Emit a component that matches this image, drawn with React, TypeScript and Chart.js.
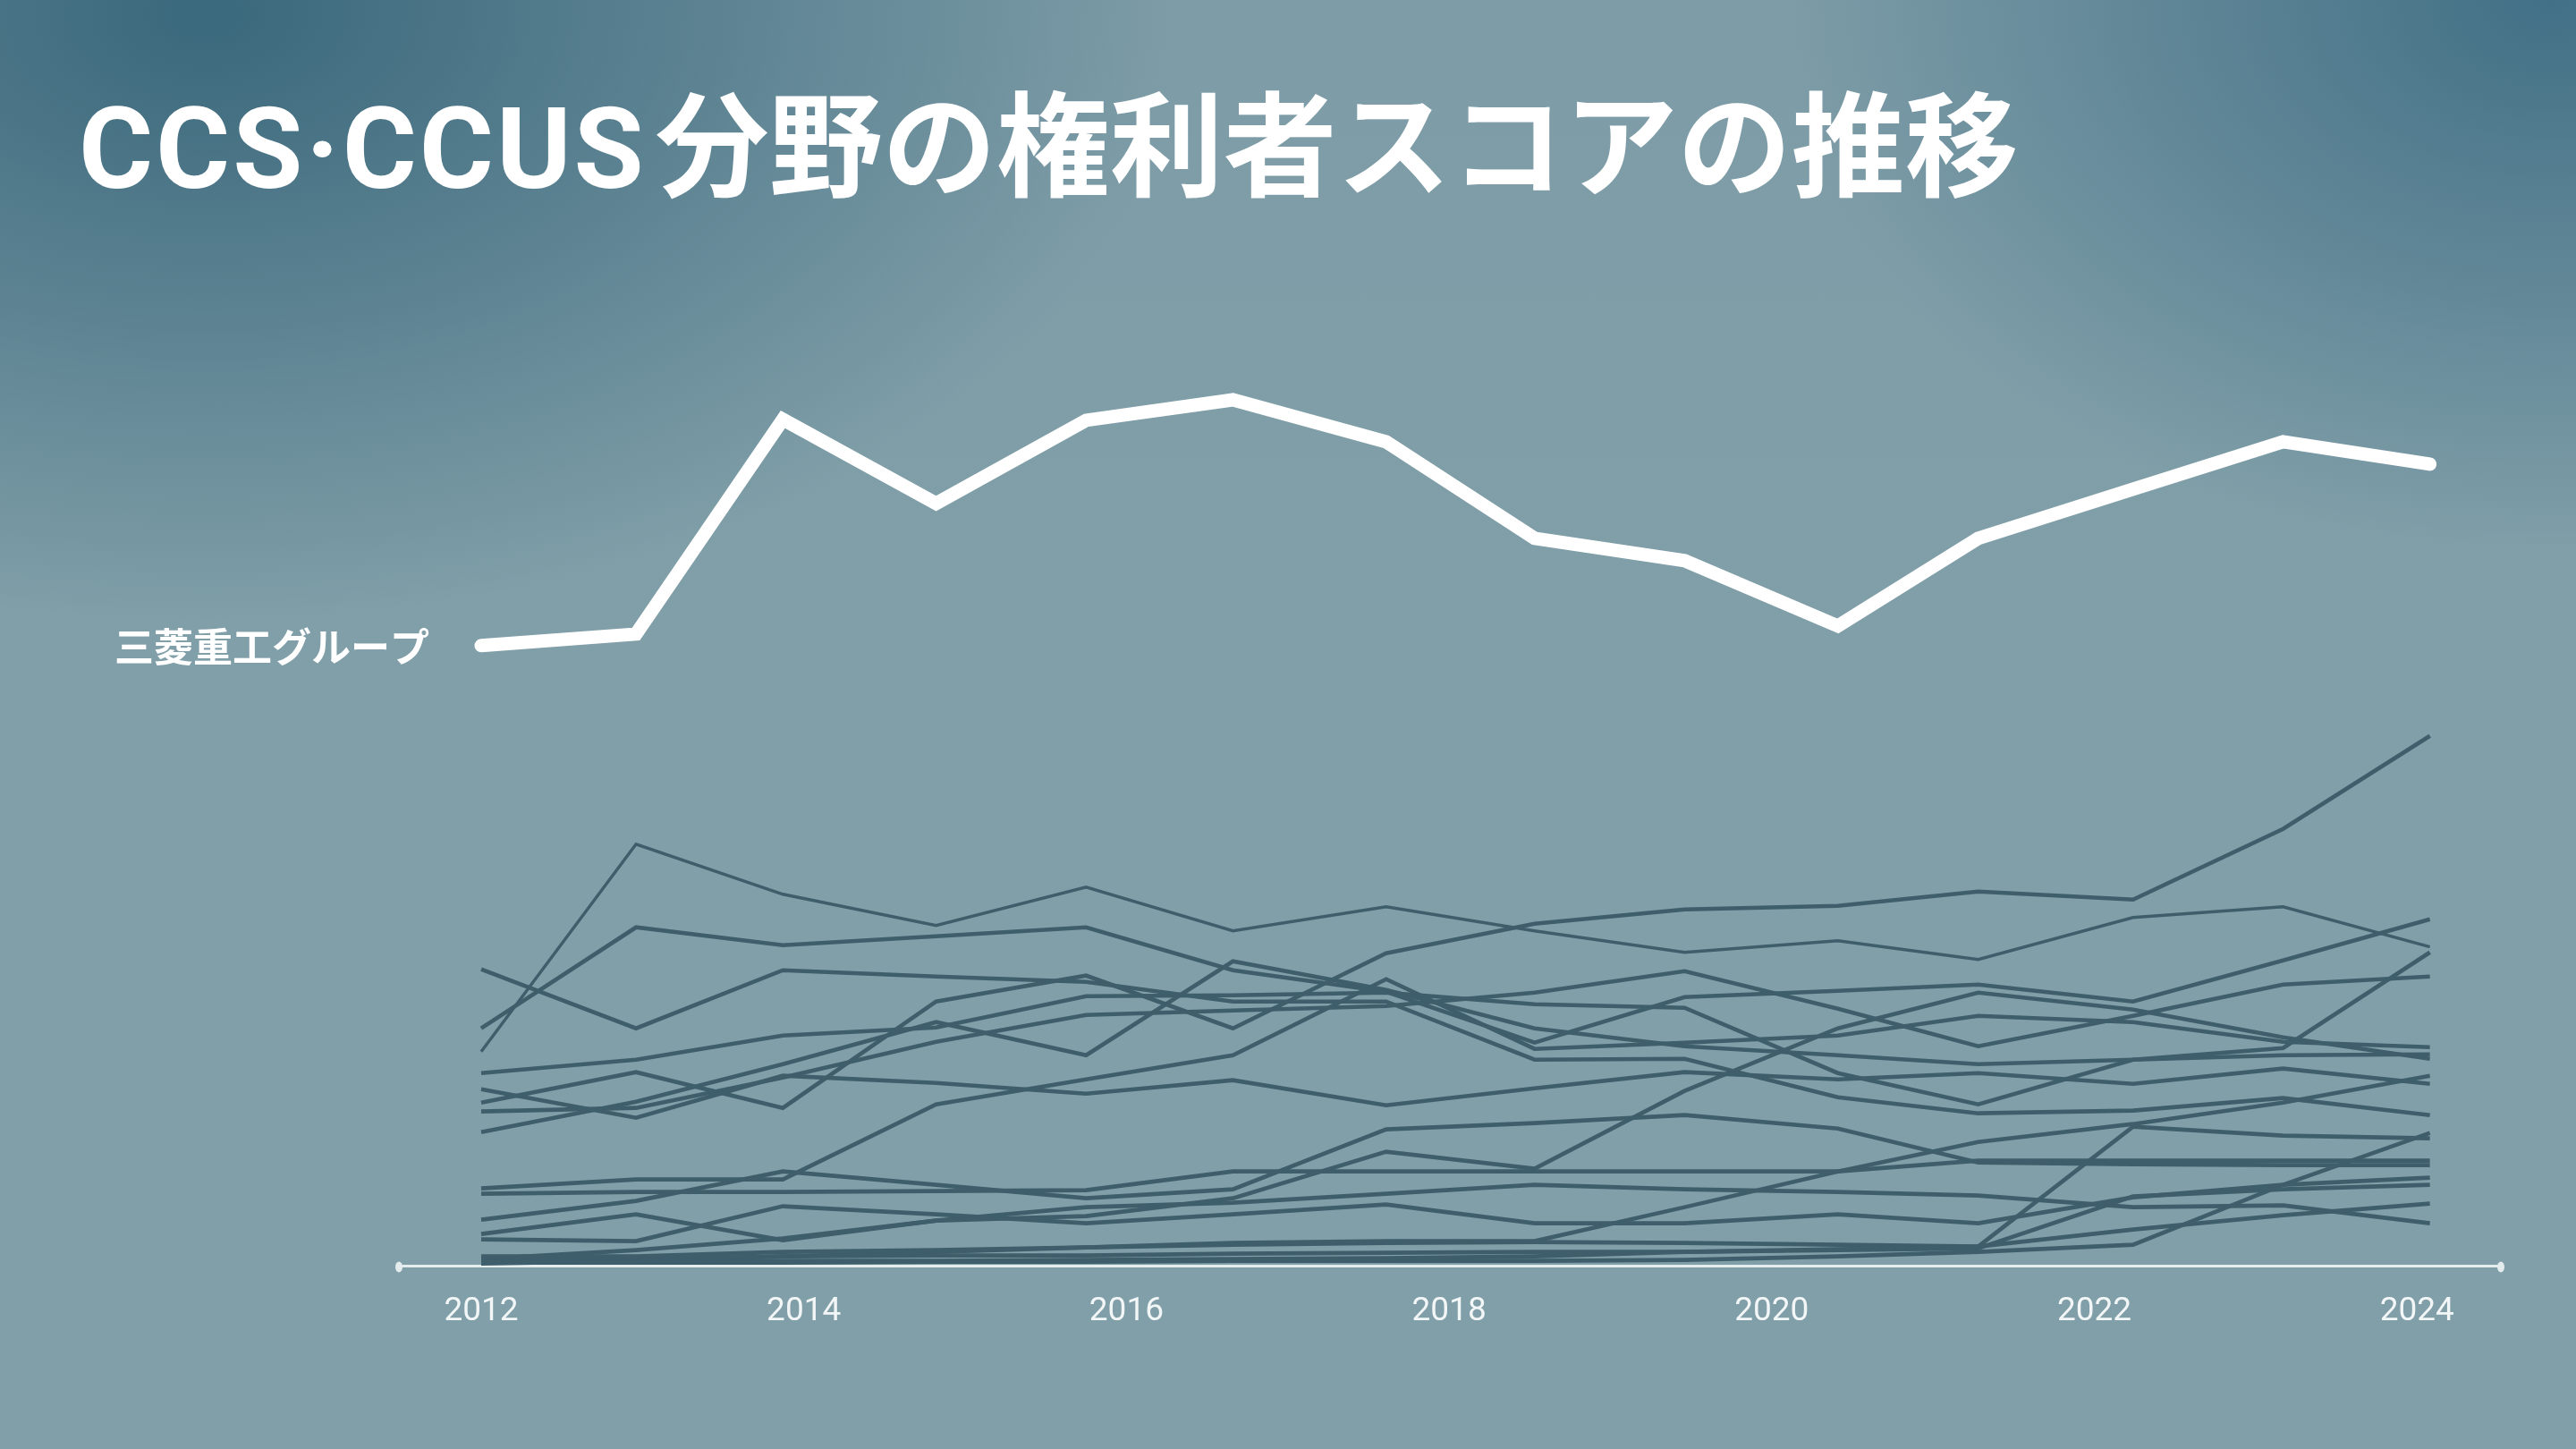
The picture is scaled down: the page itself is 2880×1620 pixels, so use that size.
import React, { useEffect, useRef } from "react";
import { Chart, registerables } from "chart.js";

Chart.register(...registerables);

const TITLE_LATIN = "CCS·CCUS";
const TITLE_JP = "分野の権利者スコアの推移";
const HIGHLIGHT_LABEL = "三菱重工グループ";

const tickYears = [2012, 2014, 2016, 2018, 2020, 2022, 2024];
const pointYears = [2012.0, 2012.96, 2013.87, 2014.82, 2015.75, 2016.66, 2017.61, 2018.53, 2019.46, 2020.41, 2021.28, 2022.24, 2023.17, 2024.08];

const mitsubishiHeavy = [69.4, 70.7, 94.7, 85.3, 94.6, 96.9, 92.2, 81.4, 78.9, 71.6, 81.4, 86.9, 92.2, 89.7];

const peerA = [24.0, 47.2, 41.6, 38.1, 42.4, 37.5, 40.2, 37.5, 35.1, 36.4, 34.3, 39.0, 40.2, 35.7];
const peerB = [18.3, 21.7, 17.7, 29.6, 32.5, 26.6, 35.0, 38.3, 39.9, 40.3, 41.9, 41.0, 48.9, 59.3];
const peerC = [26.6, 37.9, 35.9, 36.9, 37.9, 33.1, 30.7, 25.0, 30.1, 30.8, 31.5, 29.6, 34.2, 38.8];
const peerD = [33.2, 26.6, 33.1, 32.4, 31.8, 29.6, 29.6, 23.1, 23.2, 18.9, 17.1, 17.4, 18.8, 16.9];
const peerE = [21.6, 23.1, 25.8, 26.7, 30.2, 30.3, 30.6, 29.3, 28.9, 21.6, 18.1, 23.1, 24.4, 35.1];
const peerF = [19.8, 16.6, 21.3, 20.5, 19.3, 20.8, 18.0, 19.9, 21.7, 20.9, 21.6, 20.4, 22.1, 20.4];
const peerG = [17.3, 17.7, 21.1, 25.1, 28.1, 28.6, 29.1, 30.6, 33.0, 28.8, 24.6, 28.0, 31.5, 32.4];
const peerH = [15.0, 18.4, 22.6, 27.3, 23.6, 34.1, 30.9, 26.6, 24.6, 23.6, 22.6, 23.1, 23.6, 23.7];
const peerI = [8.7, 9.7, 9.7, 18.1, 20.9, 23.6, 32.1, 24.3, 25.0, 25.8, 28.0, 27.3, 25.1, 24.5];
const peerJ = [8.1, 8.3, 8.3, 8.4, 8.5, 10.6, 10.6, 10.6, 10.6, 10.6, 11.8, 11.8, 11.8, 11.8];
const peerK = [5.2, 7.3, 10.6, 9.1, 7.6, 8.6, 15.3, 16.0, 16.9, 15.4, 11.6, 11.4, 11.3, 11.3];
const peerL = [3.6, 5.8, 2.9, 5.1, 5.6, 7.6, 12.8, 10.9, 19.6, 26.6, 30.6, 28.7, 25.6, 23.2];
const peerM = [3.0, 2.8, 6.7, 5.8, 4.8, 5.8, 6.9, 4.8, 4.8, 5.8, 4.8, 7.7, 9.1, 9.9];
const peerN = [1.1, 1.1, 1.6, 1.8, 2.1, 2.6, 2.8, 2.8, 6.6, 10.6, 13.9, 15.9, 18.3, 21.3];
const peerO = [0.5, 0.5, 0.6, 0.6, 0.7, 0.8, 0.9, 1.1, 1.6, 1.9, 2.2, 15.6, 14.6, 14.3];
const peerP = [0.3, 0.6, 1.1, 1.6, 2.1, 2.4, 2.6, 2.7, 2.6, 2.4, 2.2, 4.1, 5.7, 7.0];
const peerQ = [0.8, 1.8, 3.1, 5.1, 6.6, 7.1, 8.1, 9.1, 8.6, 8.3, 7.9, 6.6, 6.8, 4.8];
const peerR = [0.6, 0.8, 1.1, 1.2, 1.2, 1.4, 1.5, 1.6, 1.6, 1.8, 2.0, 7.8, 8.6, 9.1];
const peerS = [0.4, 0.4, 0.4, 0.5, 0.5, 0.6, 0.6, 0.6, 0.7, 1.1, 1.6, 2.4, 9.1, 14.9];

const peers = [peerA, peerB, peerC, peerD, peerE, peerF, peerG, peerH, peerI, peerJ, peerK, peerL, peerM, peerN, peerO, peerP, peerQ, peerR, peerS];

const W = 2880;
const H = 1620;

export default function App() {
  const ref = useRef<HTMLCanvasElement>(null);

  useEffect(() => {
    const canvas = ref.current;
    if (!canvas) return;
    const toPoints = (arr: number[]) => pointYears.map((x, i) => ({ x, y: arr[i] }));

    const datasets: any[] = [
      {
        label: HIGHLIGHT_LABEL,
        data: toPoints(mitsubishiHeavy),
        borderColor: "#ffffff",
        borderWidth: 15,
        borderCapStyle: "round",
        borderJoinStyle: "miter",
        pointRadius: 0,
        tension: 0,
      },
      ...peers.map((p, i) => ({
        label: "peer" + (i + 1),
        data: toPoints(p),
        borderColor: "#3e5e6b",
        borderWidth: i === 0 ? 3.4 : 4.6,
        borderJoinStyle: "miter",
        pointRadius: 0,
        tension: 0,
      })),
    ];

    const labelPlugin = {
      id: "highlightLabel",
      afterDatasetsDraw(chart: any) {
        const meta = chart.getDatasetMeta(0);
        const pt = meta.data[0];
        if (!pt) return;
        const ctx = chart.ctx;
        ctx.save();
        ctx.fillStyle = "#ffffff";
        ctx.font = 'bold 44px "Noto Sans CJK JP"';
        ctx.textAlign = "right";
        ctx.textBaseline = "middle";
        ctx.fillText(HIGHLIGHT_LABEL, pt.x - 58, pt.y + 1);
        ctx.restore();
      },
    };

    const axisDots = {
      id: "axisDots",
      afterDraw(chart: any) {
        const { ctx, chartArea } = chart;
        ctx.save();
        ctx.fillStyle = "#e4ecee";
        [chartArea.left, chartArea.right].forEach((x: number) => {
          ctx.beginPath();
          ctx.ellipse(x, chartArea.bottom + 1, 4, 6, 0, 0, Math.PI * 2);
          ctx.fill();
        });
        ctx.restore();
      },
    };

    const chart = new Chart(canvas, {
      type: "line",
      data: { datasets },
      options: {
        responsive: false,
        devicePixelRatio: 1,
        animation: false,
        events: [],
        layout: { padding: { left: 446, right: 84, top: 316, bottom: 102 } },
        plugins: {
          legend: { display: false },
          tooltip: { enabled: false },
          title: { display: false },
        },
        scales: {
          x: {
            type: "linear",
            min: 2011.49,
            max: 2024.52,
            afterBuildTicks: (scale: any) => {
              scale.ticks = tickYears.map((v) => ({ value: v }));
            },
            ticks: {
              color: "#f2f6f7",
              font: { family: "Roboto", size: 37 },
              padding: 29,
              maxRotation: 0,
              autoSkip: false,
              callback: (v: any) => String(v),
            },
            grid: { display: false, drawTicks: false },
            border: { display: true, color: "#e4ecee", width: 3 },
          },
          y: { display: false, min: 0, max: 110 },
        },
      } as any,
      plugins: [labelPlugin, axisDots],
    });
    return () => chart.destroy();
  }, []);

  return (
    <div
      style={{
        position: "fixed",
        left: 0,
        top: 0,
        width: W,
        height: H,
        overflow: "hidden",
        background:
          "radial-gradient(ellipse 38% 42% at 8% 1%, rgba(58,104,124,1) 0%, rgba(58,104,124,0) 100%)," +
          "radial-gradient(ellipse 30% 38% at 99% 0%, rgba(66,112,134,1) 0%, rgba(66,112,134,0) 100%)," +
          "linear-gradient(180deg, #7d9ca7 0%, #809fa8 45%, #809fa8 100%)",
      }}
    >
      <div
        style={{
          position: "absolute",
          left: 88,
          top: 92,
          color: "#ffffff",
          fontSize: 127,
          lineHeight: "127px",
          fontWeight: 700,
          whiteSpace: "nowrap",
          fontFamily: "'Noto Sans CJK JP', sans-serif",
        }}
      >
        <span style={{ fontFamily: "Roboto, 'Noto Sans CJK JP', sans-serif", letterSpacing: 3, marginRight: 10 }}>{TITLE_LATIN}</span>
        <span>{TITLE_JP}</span>
      </div>
      <canvas
        ref={ref}
        width={W}
        height={H}
        style={{ position: "absolute", left: 0, top: 0, width: W, height: H }}
      />
    </div>
  );
}
